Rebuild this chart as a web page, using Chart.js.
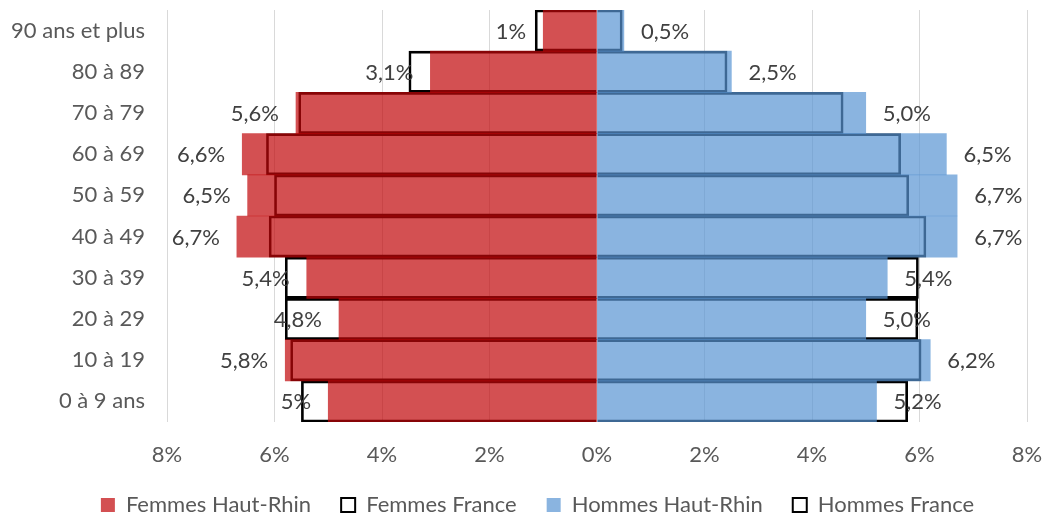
<!DOCTYPE html>
<html>
<head>
<meta charset="utf-8">
<script src="https://cdn.jsdelivr.net/npm/chart.js@4/dist/chart.umd.min.js"></script>
<style>
    html, body { margin: 0; padding: 0; background: #ffffff; }
    #wrap { width: 1045px; height: 517px; }
</style>
</head>
<body>
<div id="wrap"><canvas id="pyramidChart"></canvas></div>
<script>
// Pyramide des âges - Haut-Rhin vs France

const ageGroups = ['90 ans et plus', '80 à 89', '70 à 79', '60 à 69', '50 à 59',
    '40 à 49', '30 à 39', '20 à 29', '10 à 19', '0 à 9 ans'];

// valeurs en % (femmes négatives à l'affichage)
const femmesHautRhin = [1.0, 3.1, 5.6, 6.6, 6.5, 6.7, 5.4, 4.8, 5.8, 5.0];
const femmesFrance = [1.15, 3.5, 5.55, 6.15, 6.0, 6.1, 5.8, 5.8, 5.7, 5.5];
const hommesHautRhin = [0.5, 2.5, 5.0, 6.5, 6.7, 6.7, 5.4, 5.0, 6.2, 5.2];
const hommesFrance = [0.47, 2.42, 4.58, 5.65, 5.8, 6.12, 5.98, 5.97, 6.03, 5.78];

const femmesLabels = ['1%', '3,1%', '5,6%', '6,6%', '6,5%', '6,7%', '5,4%', '4,8%', '5,8%', '5%'];
const hommesLabels = ['0,5%', '2,5%', '5,0%', '6,5%', '6,7%', '6,7%', '5,4%', '5,0%', '6,2%', '5,2%'];

const xTicks = [-8, -6, -4, -2, 0, 2, 4, 6, 8];

const FONT = 'Lato, "Open Sans", sans-serif';
const TEXT_COLOR = '#595959';

// étiquettes de données en bout de barre
const barLabels = {
    id: 'barLabels',
    afterDatasetsDraw(chart) {
        const ctx = chart.ctx;
        ctx.save();
        ctx.font = '22px ' + FONT;
        ctx.fillStyle = '#404040';
        ctx.textBaseline = 'middle';
        [[0, femmesLabels, -1], [2, hommesLabels, 1]].forEach(([idx, texts, dir]) => {
            const meta = chart.getDatasetMeta(idx);
            meta.data.forEach((bar, i) => {
                ctx.textAlign = dir < 0 ? 'right' : 'left';
                ctx.fillText(texts[i], bar.x + dir * 17, bar.y + 1);
            });
        });
        ctx.restore();
    }
};

// décale légèrement la légende vers la droite
const legendShift = {
    id: 'legendShift',
    afterLayout(chart) {
        if (chart.legend) {
            chart.legend.left += 24;
            chart.legend.right += 24;
        }
    }
};

function createPyramidChart() {
    const ctx = document.getElementById('pyramidChart');
    if (ctx) {
        new Chart(ctx, {
            type: 'bar',
            data: {
                labels: ageGroups,
                datasets: [{
                    label: 'Femmes Haut-Rhin',
                    data: femmesHautRhin.map(v => -v),
                    backgroundColor: 'rgba(192, 5, 8, 0.7)',
                    borderWidth: 0
                }, {
                    label: 'Femmes France',
                    data: femmesFrance.map(v => -v),
                    backgroundColor: 'rgba(255, 255, 255, 0)',
                    borderColor: '#000000',
                    borderWidth: 2
                }, {
                    label: 'Hommes Haut-Rhin',
                    data: hommesHautRhin,
                    backgroundColor: 'rgba(88, 148, 211, 0.7)',
                    borderWidth: 0
                }, {
                    label: 'Hommes France',
                    data: hommesFrance,
                    backgroundColor: 'rgba(255, 255, 255, 0)',
                    borderColor: '#000000',
                    borderWidth: 2
                }]
            },
            options: {
                indexAxis: 'y',
                responsive: true,
                maintainAspectRatio: false,
                animation: false,
                layout: {
                    autoPadding: false,
                    padding: { top: 10, right: 18, bottom: 0, left: 0 }
                },
                datasets: {
                    bar: {
                        grouped: false,
                        categoryPercentage: 1.0,
                        barPercentage: 1.0
                    }
                },
                plugins: {
                    tooltip: { enabled: false },
                    legend: {
                        position: 'bottom',
                        maxHeight: 53,
                        labels: {
                            color: TEXT_COLOR,
                            font: { family: FONT, size: 22 },
                            boxWidth: 14,
                            boxHeight: 14,
                            padding: 30
                        }
                    }
                },
                scales: {
                    x: {
                        min: -8,
                        max: 8,
                        afterBuildTicks: (scale) => {
                            scale.ticks = xTicks.map(v => ({ value: v }));
                        },
                        afterFit: (scale) => {
                            scale.height = 42;
                            scale.paddingLeft = 0;
                            scale.paddingRight = 0;
                        },
                        ticks: {
                            color: TEXT_COLOR,
                            font: { family: FONT, size: 22 },
                            padding: 20,
                            callback: (value) => Math.abs(value) + '%'
                        },
                        grid: {
                            color: '#d9d9d9',
                            lineWidth: 1,
                            drawTicks: false
                        },
                        border: { display: false }
                    },
                    y: {
                        afterFit: (scale) => {
                            scale.width = 167;
                            scale.paddingTop = 0;
                            scale.paddingBottom = 0;
                        },
                        ticks: {
                            color: TEXT_COLOR,
                            font: { family: FONT, size: 22 },
                            padding: 22
                        },
                        grid: { display: false, drawTicks: false },
                        border: { display: false }
                    }
                }
            },
            plugins: [barLabels, legendShift]
        });
    }
}

createPyramidChart();
</script>
</body>
</html>
